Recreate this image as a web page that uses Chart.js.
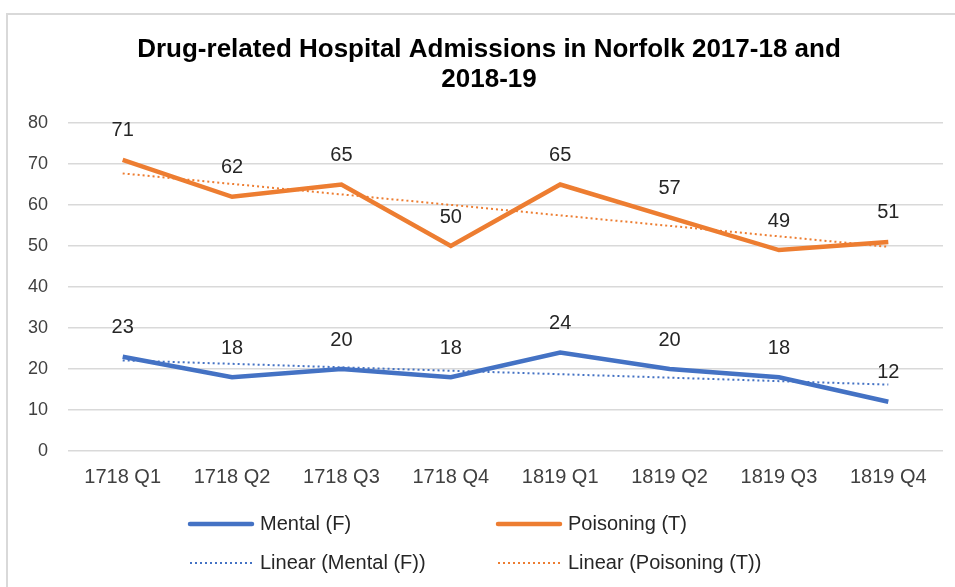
<!DOCTYPE html>
<html>
<head>
<meta charset="utf-8">
<script src="https://cdn.jsdelivr.net/npm/chart.js@4.4.1/dist/chart.umd.min.js"></script>
<style>
  html, body { margin: 0; padding: 0; background: #fff; }
  #wrap { position: relative; width: 955px; height: 587px; overflow: hidden; }
  #frame { position: absolute; left: 6px; top: 13px; width: 960px; height: 600px; border: 2px solid #d9d9d9; box-sizing: border-box; }
  canvas { position: absolute; left: 0; top: 0; }
</style>
</head>
<body>
<div id="wrap">
  <div id="frame"></div>
  <canvas id="lineChart" width="955" height="587"></canvas>
</div>
<script>
var quarters = ['1718 Q1', '1718 Q2', '1718 Q3', '1718 Q4', '1819 Q1', '1819 Q2', '1819 Q3', '1819 Q4'];
var mentalData = [23, 18, 20, 18, 24, 20, 18, 12];
var poisoningData = [71, 62, 65, 50, 65, 57, 49, 51];
// trend line end points (first / last quarter)
var mentalTrend = [22.1, 16.2];
var poisoningTrend = [67.7, 49.8];
var yTicks = [0, 10, 20, 30, 40, 50, 60, 70, 80];
var titleLines = ['Drug-related Hospital Admissions in Norfolk 2017-18 and', '2018-19'];

var color = {
  mental: '#4472C4',
  poison: '#ED7D31',
  grid: '#d9d9d9',
  text: '#404040'
};
var FONT = '"Liberation Sans", Arial, sans-serif';

function trendPoints(ends) {
  return [{ x: quarters[0], y: ends[0] }, { x: quarters[quarters.length - 1], y: ends[1] }];
}

// title is centred on the outer frame, not on the canvas
var frameTitle = {
  id: 'frameTitle',
  afterDraw: function(chart) {
    var ctx = chart.ctx;
    ctx.save();
    ctx.font = 'bold 26px ' + FONT;
    ctx.fillStyle = '#000';
    ctx.textAlign = 'center';
    ctx.textBaseline = 'alphabetic';
    ctx.fillText(titleLines[0], 489, 57);
    ctx.fillText(titleLines[1], 489, 87);
    ctx.restore();
  }
};

// value labels above the two main lines
var valueLabels = {
  id: 'valueLabels',
  afterDatasetsDraw: function(chart) {
    var ctx = chart.ctx;
    ctx.save();
    ctx.font = '20px ' + FONT;
    ctx.fillStyle = '#262626';
    ctx.textAlign = 'center';
    ctx.textBaseline = 'middle';
    [0, 1].forEach(function(i) {
      var meta = chart.getDatasetMeta(i);
      meta.data.forEach(function(pt, j) {
        ctx.fillText(chart.data.datasets[i].data[j], pt.x, pt.y - 29);
      });
    });
    ctx.restore();
  }
};

// 2 x 2 legend like the original
var gridLegend = {
  id: 'gridLegend',
  afterDraw: function(chart) {
    var ctx = chart.ctx;
    var cols = [190, 498];
    var rows = [524, 563];
    ctx.save();
    ctx.font = '20px ' + FONT;
    ctx.textBaseline = 'middle';
    chart.data.datasets.forEach(function(ds, i) {
      var x = cols[i % 2], y = rows[Math.floor(i / 2)];
      ctx.strokeStyle = ds.borderColor;
      ctx.lineWidth = ds.borderDash.length ? 2 : 4.5;
      ctx.setLineDash(ds.borderDash);
      ctx.lineCap = ds.borderDash.length ? 'butt' : 'round';
      ctx.beginPath();
      ctx.moveTo(x, y);
      ctx.lineTo(x + 62, y);
      ctx.stroke();
      ctx.setLineDash([]);
      ctx.fillStyle = '#262626';
      ctx.fillText(ds.label, x + 70, y);
    });
    ctx.restore();
  }
};

new Chart(document.getElementById('lineChart'), {
  type: 'line',
  data: {
    labels: quarters,
    datasets: [
      {
        label: 'Mental (F)',
        data: mentalData,
        borderColor: color.mental,
        backgroundColor: color.mental,
        borderWidth: 4.5,
        borderDash: [],
        pointRadius: 0,
        tension: 0,
        order: 2
      },
      {
        label: 'Poisoning (T)',
        data: poisoningData,
        borderColor: color.poison,
        backgroundColor: color.poison,
        borderWidth: 4.5,
        borderDash: [],
        pointRadius: 0,
        tension: 0,
        order: 2
      },
      {
        label: 'Linear (Mental (F))',
        data: trendPoints(mentalTrend),
        borderColor: color.mental,
        backgroundColor: color.mental,
        borderWidth: 2,
        borderDash: [2, 3],
        pointRadius: 0,
        order: 1
      },
      {
        label: 'Linear (Poisoning (T))',
        data: trendPoints(poisoningTrend),
        borderColor: color.poison,
        backgroundColor: color.poison,
        borderWidth: 2,
        borderDash: [2, 3],
        pointRadius: 0,
        order: 1
      }
    ]
  },
  options: {
    responsive: false,
    animation: false,
    layout: { padding: { left: 0, right: 12, top: 123, bottom: 96 } },
    plugins: {
      legend: { display: false },
      tooltip: { enabled: false },
      title: { display: false }
    },
    scales: {
      x: {
        offset: true,
        afterFit: function(scale) { scale.height = 40; },
        grid: { display: false, drawTicks: false },
        border: { display: false },
        ticks: { color: color.text, padding: 14, font: { family: FONT, size: 20 }, maxRotation: 0 }
      },
      y: {
        min: 0,
        max: 80,
        afterBuildTicks: function(scale) {
          scale.ticks = yTicks.map(function(v) { return { value: v }; });
        },
        afterFit: function(scale) { scale.width = 68; },
        grid: { color: color.grid, lineWidth: 1.5, drawTicks: false },
        border: { display: false },
        ticks: { color: color.text, padding: 20, font: { family: FONT, size: 18 } }
      }
    }
  },
  plugins: [frameTitle, valueLabels, gridLegend]
});
</script>
</body>
</html>
